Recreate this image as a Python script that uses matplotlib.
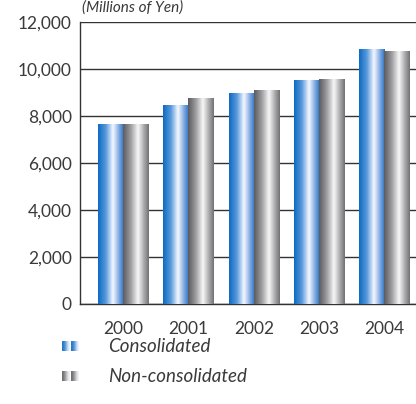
import matplotlib
matplotlib.use("Agg")
import matplotlib.pyplot as plt
import numpy as np
from matplotlib.colors import LinearSegmentedColormap

years = ['2000', '2001', '2002', '2003', '2004']
consolidated = [7620, 8460, 8950, 9530, 10850]
non_consolidated = [7650, 8750, 9080, 9560, 10750]
yticks = [0, 2000, 4000, 6000, 8000, 10000, 12000]

blue_cmap = LinearSegmentedColormap.from_list('blue', [
    (0.0, (0.05, 0.42, 0.76)), (0.3, (0.35, 0.60, 0.86)),
    (0.58, (0.96, 0.97, 1.0)), (0.82, (0.50, 0.66, 0.88)),
    (1.0, (0.16, 0.46, 0.78))])
gray_cmap = LinearSegmentedColormap.from_list('gray', [
    (0.0, (0.36, 0.36, 0.38)), (0.3, (0.62, 0.62, 0.63)),
    (0.58, (0.97, 0.97, 0.97)), (0.82, (0.66, 0.66, 0.67)),
    (1.0, (0.45, 0.45, 0.46))])
grad = np.linspace(0, 1, 64).reshape(1, -1)

plt.rcParams['font.family'] = ['Lato', 'DejaVu Sans']

fig = plt.figure(figsize=(4.16, 4.04), dpi=100)
ax = fig.add_axes([80/416, 1-304/404, 337/416, 282/404])

x = np.arange(len(years))
w = 0.385
for series, off, cmap in [(consolidated, -w/2, blue_cmap), (non_consolidated, w/2, gray_cmap)]:
    bars = ax.bar(x + off, series, width=w, color='none', zorder=3)
    for b in bars:
        x0 = b.get_x()
        ax.imshow(grad, cmap=cmap, extent=[x0, x0 + b.get_width(), 0, b.get_height()],
                  aspect='auto', zorder=3, interpolation='bilinear')

ax.set_xlim(-0.66, 4.5)
ax.set_ylim(0, 12000)
ax.set_yticks(yticks)
ax.set_yticklabels([f'{v:,}' for v in yticks])
ax.set_xticks(x)
ax.set_xticklabels(years)
ax.yaxis.grid(True, color='#333333', linewidth=1.0, zorder=1)
ax.set_axisbelow(True)
for s in ['top', 'right']:
    ax.spines[s].set_visible(False)
for s in ['left', 'bottom']:
    ax.spines[s].set_color('#333333')
    ax.spines[s].set_linewidth(1.0)
ax.tick_params(axis='both', length=0, labelsize=12.5, colors='#3a3a3a')
ax.tick_params(axis='y', pad=6)
ax.tick_params(axis='x', pad=12)

fig.text(82/416, 1-12/404, '(Millions of Yen)', fontsize=11, style='italic',
         color='#3a3a3a', va='baseline')

# legend with gradient swatches
for i, (name, cmap) in enumerate([('Consolidated', blue_cmap), ('Non-consolidated', gray_cmap)]):
    yc = 346 + i * 30
    for j in range(2):
        lax = fig.add_axes([(62 + j * 9)/416, 1-(yc + 5)/404, 8/416, 10/404])
        lax.imshow(np.linspace(0.1, 0.6, 4).reshape(1, -1), cmap=cmap, aspect='auto',
                   interpolation='bilinear', vmin=0, vmax=1)
        lax.axis('off')
    fig.text(108/416, 1-yc/404, name, fontsize=13.5, style='italic',
             color='#3a3a3a', va='center')

fig.savefig('out.png', dpi=100)
